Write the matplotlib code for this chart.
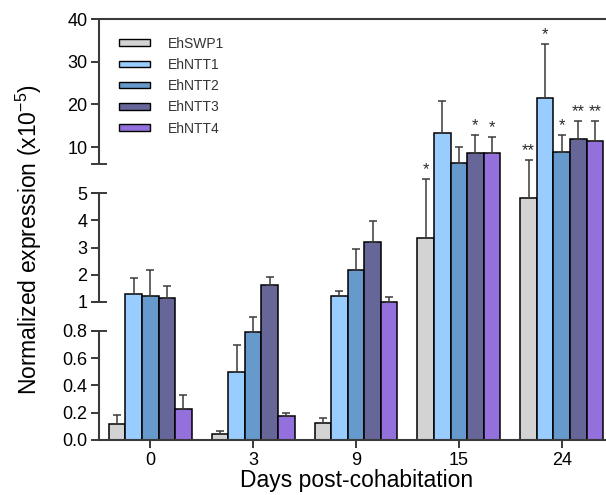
import numpy as np
import matplotlib
matplotlib.use("Agg")
import matplotlib.pyplot as plt
from matplotlib.patches import Patch

plt.rcParams["font.family"] = ["Liberation Sans", "DejaVu Sans"]
plt.rcParams["mathtext.default"] = "regular"

# ---- data ----
days = ["0", "3", "9", "15", "24"]
series = ["EhSWP1", "EhNTT1", "EhNTT2", "EhNTT3", "EhNTT4"]

swp1 = [0.12, 0.042, 0.124, 3.34, 4.82]
ntt1 = [1.27, 0.496, 1.22, 13.2, 21.4]
ntt2 = [1.22, 0.793, 2.16, 6.19, 8.9]
ntt3 = [1.13, 1.605, 3.19, 8.53, 11.9]
ntt4 = [0.227, 0.176, 1.0, 8.67, 11.3]

swp1_err = [0.065, 0.024, 0.037, 2.14, 2.14]
ntt1_err = [0.59, 0.2, 0.18, 7.5, 12.8]
ntt2_err = [0.95, 0.1, 0.78, 3.8, 3.9]
ntt3_err = [0.46, 0.3, 0.8, 4.3, 4.2]
ntt4_err = [0.1, 0.024, 0.16, 3.7, 4.7]

swp1_sig = ["", "", "", "*", "**"]
ntt1_sig = ["", "", "", "", "*"]
ntt2_sig = ["", "", "", "", "*"]
ntt3_sig = ["", "", "", "*", "**"]
ntt4_sig = ["", "", "", "*", "**"]

ytick_vals = [0, 0.2, 0.4, 0.6, 0.8, 1, 2, 3, 4, 5, 10, 20, 30, 40]
ytick_labels = ["0.0", "0.2", "0.4", "0.6", "0.8", "1", "2", "3", "4", "5",
                "10", "20", "30", "40"]

colors = ["#D3D3D3", "#99CCFF", "#6699CC", "#666699", "#9370DB"]

# ---- segmented y scale (value -> relative height), three segments ----
seg_v = [0, 0.8, 1, 5, 6, 40]
seg_p = [0, 109.3, 138.3, 246.7, 275.9, 421]
segments = [(0, 0.8), (1, 5), (6, 40)]

_s0 = seg_p[1] / seg_v[1]
_s1 = (seg_p[-1] - seg_p[-2]) / (seg_v[-1] - seg_v[-2])
_ev = np.array([-1e4] + seg_v + [1e5])
_ep = np.array([-1e4 * _s0] + seg_p + [seg_p[-1] + (1e5 - seg_v[-1]) * _s1])


def fwd(v):
    return np.interp(v, _ev, _ep)


def inv(p):
    return np.interp(p, _ep, _ev)


fig = plt.figure(figsize=(6.06, 4.95), dpi=100)
W, H = 606, 495
ax_l, ax_r, ax_b, ax_t = 99.3, 606, 440, 19
ax = fig.add_axes([ax_l / W, (H - ax_b) / H, (ax_r - ax_l) / W, (ax_b - ax_t) / H])
ax.set_yscale("function", functions=(fwd, inv))

values = [swp1, ntt1, ntt2, ntt3, ntt4]
errors = [swp1_err, ntt1_err, ntt2_err, ntt3_err, ntt4_err]
sigs = [swp1_sig, ntt1_sig, ntt2_sig, ntt3_sig, ntt4_sig]

x = np.arange(len(days))
w = 0.161
axis_col = "#3a3a3a"
for i, (name, vals, errs, sg, c) in enumerate(zip(series, values, errors, sigs, colors)):
    xs = x + (i - 2) * w
    ax.bar(xs, vals, width=w, color=c, edgecolor="black", linewidth=1.1, zorder=2)
    ax.errorbar(xs, vals, yerr=[np.zeros(len(vals)), errs], fmt="none",
                ecolor=axis_col, elinewidth=1.1, capsize=3.2, capthick=1.1, zorder=3)
    for xi, v, e, s in zip(xs, vals, errs, sg):
        if s:
            ax.annotate(s, (xi, v + e), xytext=(0, 3.6), textcoords="offset points",
                        ha="center", va="baseline", fontsize=12, color="#2a2a2a")

ax.set_xlim(-0.495, 4.43)
ax.set_ylim(0, 40)
ax.set_xticks(x)
ax.set_xticklabels(days)
ax.set_yticks(ytick_vals)
ax.set_yticklabels(ytick_labels)
ax.minorticks_off()

ax.tick_params(axis="y", direction="out", length=5.5, width=1.4, color=axis_col,
               labelsize=13, pad=3)
ax.tick_params(axis="x", direction="out", length=5.8, width=1.4, color=axis_col,
               labelsize=13, pad=2.5)

for side in ["top", "bottom"]:
    ax.spines[side].set_linewidth(1.5)
    ax.spines[side].set_color(axis_col)
ax.spines["right"].set_visible(False)
ax.spines["left"].set_visible(False)

# broken left axis: one spine piece per segment, with end caps
tr = ax.get_yaxis_transform()
axw = ax_r - ax_l
cap_r = 6.7 / axw
cap_l = -7.7 / axw
for lo, hi in segments:
    ax.plot([0, 0], [lo, hi], transform=tr, color=axis_col, lw=1.5,
            clip_on=False, solid_capstyle="butt", zorder=4)
    for end in (lo, hi):
        if end == 0:
            continue
        ax.plot([cap_l, cap_r], [end, end], transform=tr, color=axis_col, lw=1.4,
                clip_on=False, zorder=4)

ax.set_xlabel("Days post-cohabitation", fontsize=16.5)
ax.xaxis.set_label_coords(0.5076, -0.07)
ax.set_ylabel("Normalized expression (x10$^{-5}$)", fontsize=16.5)
ax.yaxis.set_label_coords(-0.11, 0.475)

handles = [Patch(facecolor=c, edgecolor="black", linewidth=1.0) for c in colors]
leg = ax.legend(handles, series, loc="upper left", bbox_to_anchor=(0.0395, 0.958),
                frameon=False, fontsize=10, handlelength=2.24, handleheight=0.34,
                handletextpad=1.29, labelspacing=0.52, borderpad=0, borderaxespad=0)
for t in leg.get_texts():
    t.set_color("#333333")

fig.savefig("out.png", dpi=100)
